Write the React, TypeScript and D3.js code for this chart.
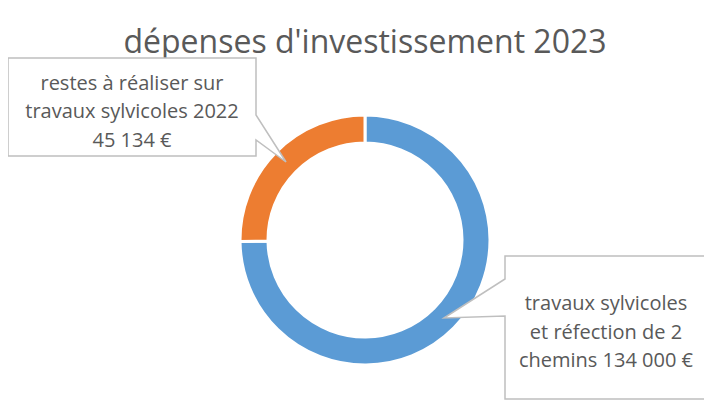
import React, { useEffect, useRef } from 'react';
import * as d3 from 'd3';

// Data
const categories = [
  'travaux sylvicoles et réfection de 2 chemins',
  'restes à réaliser sur travaux sylvicoles 2022',
];
const values = [134000, 45134];
const colors = ['#5B9BD5', '#ED7D31'];
const labelLines = [
  ['travaux sylvicoles', 'et réfection de 2', 'chemins 134 000 €'],
  ['restes à réaliser sur', 'travaux sylvicoles 2022', '45 134 €'],
];
const title = "dépenses d'investissement 2023";

// Layout of the callout boxes (x, y, w, h) and the notch side
const boxes = [
  { x: 505, y: 256, w: 202, h: 143, side: 'left', n0: 23, n1: 60 },
  { x: 8, y: 58, w: 248, h: 98, side: 'right', n0: 57, n1: 82 },
];

const W = 712;
const H = 410;
const cx = 365;
const cy = 240;
const outerR = 125;
const innerR = 97;
const FONT = "'Open Sans', sans-serif";

const App: React.FC = () => {
  const svgRef = useRef<SVGSVGElement>(null);

  useEffect(() => {
    if (!svgRef.current) return;
    const svg = d3.select(svgRef.current);
    svg.selectAll('*').remove();

    // left frame line
    svg.append('line')
      .attr('x1', 3).attr('x2', 3).attr('y1', 0).attr('y2', H)
      .attr('stroke', '#D9D9D9').attr('stroke-width', 2);

    svg.append('text')
      .attr('x', cx).attr('y', 53)
      .attr('text-anchor', 'middle')
      .attr('font-family', FONT)
      .attr('font-size', 32)
      .attr('fill', '#595959')
      .text(title);

    const pie = d3.pie<number>().sort(null).value(d => d);
    const arcs = pie(values);
    const arc = d3.arc<d3.PieArcDatum<number>>().innerRadius(innerR).outerRadius(outerR);
    const midArc = d3.arc<d3.PieArcDatum<number>>()
      .innerRadius((innerR + outerR) / 2).outerRadius((innerR + outerR) / 2);

    const g = svg.append('g').attr('transform', `translate(${cx},${cy})`);
    g.selectAll('path')
      .data(arcs)
      .join('path')
      .attr('d', arc)
      .attr('fill', (_, i) => colors[i])
      .attr('stroke', '#fff')
      .attr('stroke-width', 3);

    // callouts
    arcs.forEach((a, i) => {
      const b = boxes[i];
      const [tx, ty] = midArc.centroid(a);
      const tipX = cx + tx;
      const tipY = cy + ty;
      let d = '';
      if (b.side === 'left') {
        d = `M${b.x},${b.y} H${b.x + b.w} V${b.y + b.h} H${b.x} V${b.y + b.n1} L${tipX},${tipY} L${b.x},${b.y + b.n0} Z`;
      } else {
        d = `M${b.x},${b.y} H${b.x + b.w} V${b.y + b.n0} L${tipX},${tipY} L${b.x + b.w},${b.y + b.n1} V${b.y + b.h} H${b.x} Z`;
      }
      svg.append('path')
        .attr('d', d)
        .attr('fill', '#fff')
        .attr('stroke', '#BFBFBF')
        .attr('stroke-width', 1.5);

      const lines = labelLines[i];
      const lh = 28.5;
      const firstBase = b.y + b.h / 2 - ((lines.length - 1) * lh) / 2 + 11;
      const t = svg.append('text')
        .attr('text-anchor', 'middle')
        .attr('font-family', FONT)
        .attr('font-size', 20)
        .attr('fill', '#595959');
      lines.forEach((ln, j) => {
        t.append('tspan')
          .attr('x', b.x + b.w / 2)
          .attr('y', firstBase + j * lh)
          .text(ln);
      });
    });
  }, []);

  return (
    <div style={{ margin: -8 }}>
      <svg ref={svgRef} width={W} height={H} style={{ display: 'block', background: '#fff' }} />
    </div>
  );
};

export default App;
